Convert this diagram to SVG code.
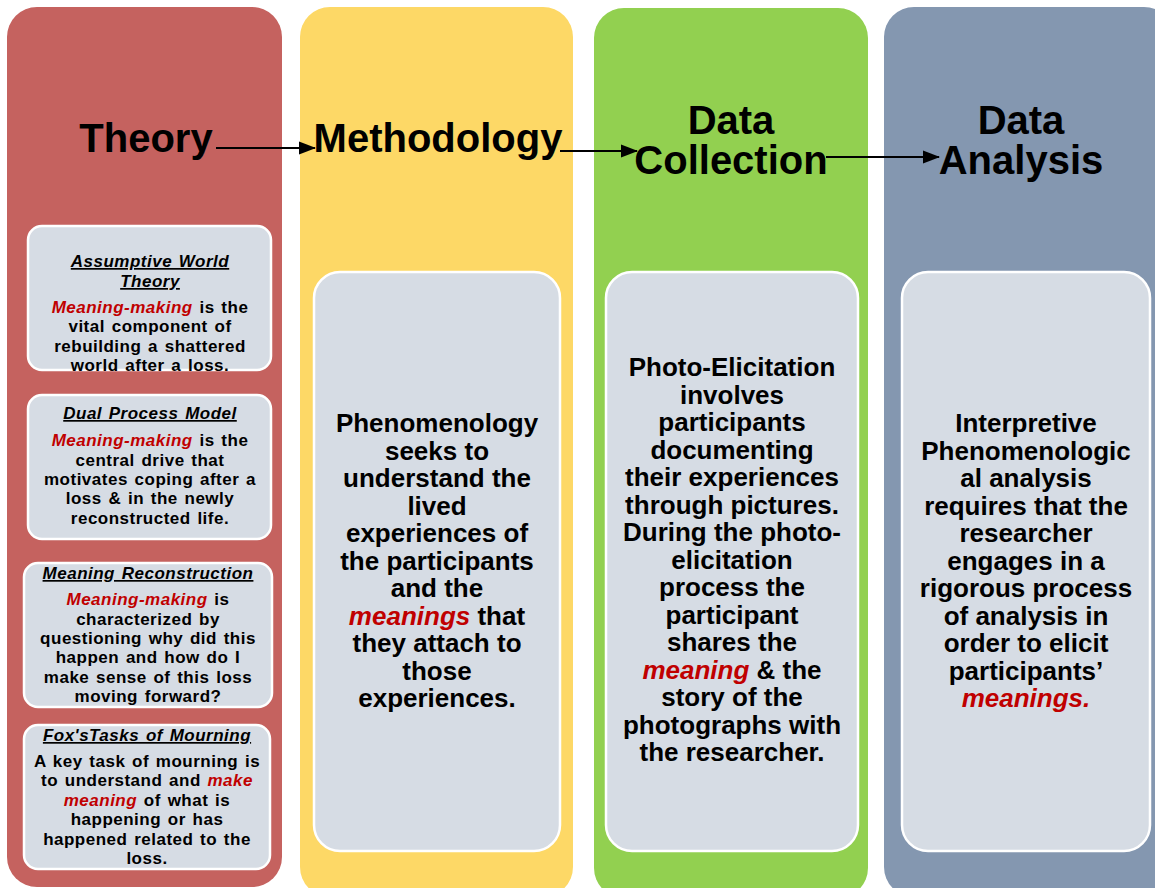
<svg xmlns="http://www.w3.org/2000/svg" width="1155" height="888" viewBox="0 0 1155 888">
<defs>
<marker id="ah" markerWidth="8" markerHeight="6" refX="7.5" refY="3" orient="auto" markerUnits="strokeWidth">
<path d="M0,0 L8,3 L0,6 Z" fill="#000"/>
</marker>
<style>
.col{stroke:none}
.box{fill:#D6DCE4;stroke:#FFFFFF;stroke-width:2.5}
.h{font-family:"Liberation Sans",Arial,sans-serif;font-weight:bold;font-size:40px;fill:#000;text-anchor:middle}
.b{font-family:"Liberation Sans",Arial,sans-serif;font-weight:bold;font-size:26px;fill:#000;text-anchor:middle}
.s{font-family:"Liberation Sans",Arial,sans-serif;font-weight:bold;font-size:17px;fill:#000;text-anchor:middle;letter-spacing:0.5px;word-spacing:1.5px}
.t{font-style:italic;text-decoration:underline}
.r{fill:#C00000;font-style:italic}
.c{stroke:#000;stroke-width:2.2;fill:none}
</style>
</defs>
<rect x="0" y="0" width="1155" height="888" fill="#FFFFFF"/>

<g id="theory">
<rect class="col" x="7" y="7" width="275" height="880" rx="30" fill="#C5625F"/>
<text class="h" x="146" y="152">Theory</text>
</g>
<g id="methodology">
<rect class="col" x="300" y="7" width="273" height="890" rx="30" fill="#FDD866"/>
<text class="h" x="438" y="152">Methodology</text>
</g>
<g id="data-collection">
<rect class="col" x="594" y="8" width="274" height="890" rx="30" fill="#92D050"/>
<text class="h" x="731" y="134">Data</text>
<text class="h" x="731" y="174">Collection</text>
</g>
<g id="data-analysis">
<rect class="col" x="884" y="7" width="290" height="890" rx="30" fill="#8497B0"/>
<text class="h" x="1021" y="134">Data</text>
<text class="h" x="1021" y="174">Analysis</text>
</g>

<g id="assumptive-world">
<rect class="box" x="28" y="226" width="243" height="144" rx="14"/>
<text class="s t" x="150" y="267" word-spacing="5">Assumptive World</text>
<text class="s t" x="150" y="287">Theory</text>
<text class="s" x="150" y="313"><tspan class="r">Meaning-making</tspan> is the</text>
<text class="s" x="150" y="332">vital component of</text>
<text class="s" x="150" y="352">rebuilding a shattered</text>
<text class="s" x="150" y="371">world after a loss.</text>
</g>
<g id="dual-process">
<rect class="box" x="28" y="395" width="243" height="144" rx="14"/>
<text class="s t" x="150" y="419">Dual Process Model</text>
<text class="s" x="150" y="446"><tspan class="r">Meaning-making</tspan> is the</text>
<text class="s" x="150" y="466">central drive that</text>
<text class="s" x="150" y="485">motivates coping after a</text>
<text class="s" x="150" y="504">loss &amp; in the newly</text>
<text class="s" x="150" y="524">reconstructed life.</text>
</g>
<g id="meaning-reconstruction">
<rect class="box" x="24" y="563" width="248" height="144" rx="14"/>
<text class="s t" x="148" y="579">Meaning Reconstruction</text>
<text class="s" x="148" y="605"><tspan class="r">Meaning-making</tspan> is</text>
<text class="s" x="148" y="625">characterized by</text>
<text class="s" x="148" y="644">questioning why did this</text>
<text class="s" x="148" y="663">happen and how do I</text>
<text class="s" x="148" y="683">make sense of this loss</text>
<text class="s" x="148" y="702">moving forward?</text>
</g>
<g id="fox-tasks">
<rect class="box" x="24" y="725" width="246" height="144" rx="14"/>
<text class="s t" x="147" y="741">Fox'sTasks of Mourning</text>
<text class="s" x="147" y="767">A key task of mourning is</text>
<text class="s" x="147" y="786">to understand and <tspan class="r">make</tspan></text>
<text class="s" x="147" y="806"><tspan class="r">meaning</tspan> of what is</text>
<text class="s" x="147" y="825">happening or has</text>
<text class="s" x="147" y="845">happened related to the</text>
<text class="s" x="147" y="864">loss.</text>
</g>

<g id="phenomenology">
<rect class="box" x="314" y="272" width="246" height="579" rx="26"/>
<text class="b" x="437" y="432">Phenomenology</text>
<text class="b" x="437" y="459.5">seeks to</text>
<text class="b" x="437" y="487">understand the</text>
<text class="b" x="437" y="514.5">lived</text>
<text class="b" x="437" y="542">experiences of</text>
<text class="b" x="437" y="569.5">the participants</text>
<text class="b" x="437" y="597">and the</text>
<text class="b" x="437" y="624.5"><tspan class="r">meanings</tspan> that</text>
<text class="b" x="437" y="652">they attach to</text>
<text class="b" x="437" y="679.5">those</text>
<text class="b" x="437" y="707">experiences.</text>
</g>

<g id="photo-elicitation">
<rect class="box" x="606" y="272" width="252" height="579" rx="26"/>
<text class="b" x="732" y="376">Photo-Elicitation</text>
<text class="b" x="732" y="403.5">involves</text>
<text class="b" x="732" y="431">participants</text>
<text class="b" x="732" y="458.5">documenting</text>
<text class="b" x="732" y="486">their experiences</text>
<text class="b" x="732" y="513.5">through pictures.</text>
<text class="b" x="732" y="541">During the photo-</text>
<text class="b" x="732" y="568.5">elicitation</text>
<text class="b" x="732" y="596">process the</text>
<text class="b" x="732" y="623.5">participant</text>
<text class="b" x="732" y="651">shares the</text>
<text class="b" x="732" y="678.5"><tspan class="r">meaning</tspan> &amp; the</text>
<text class="b" x="732" y="706">story of the</text>
<text class="b" x="732" y="733.5">photographs with</text>
<text class="b" x="732" y="761">the researcher.</text>
</g>

<g id="ipa">
<rect class="box" x="902" y="272" width="248" height="579" rx="26"/>
<text class="b" x="1026" y="432">Interpretive</text>
<text class="b" x="1026" y="459.5">Phenomenologic</text>
<text class="b" x="1026" y="487">al analysis</text>
<text class="b" x="1026" y="514.5">requires that the</text>
<text class="b" x="1026" y="542">researcher</text>
<text class="b" x="1026" y="569.5">engages in a</text>
<text class="b" x="1026" y="597">rigorous process</text>
<text class="b" x="1026" y="624.5">of analysis in</text>
<text class="b" x="1026" y="652">order to elicit</text>
<text class="b" x="1026" y="679.5">participants’</text>
<text class="b" x="1026" y="707"><tspan class="r">meanings.</tspan></text>
</g>

<g id="connectors">
<line class="c" x1="216" y1="148" x2="315" y2="148" marker-end="url(#ah)"/>
<line class="c" x1="560" y1="151" x2="637" y2="151" marker-end="url(#ah)"/>
<line class="c" x1="826" y1="157" x2="939" y2="157" marker-end="url(#ah)"/>
</g>
</svg>
